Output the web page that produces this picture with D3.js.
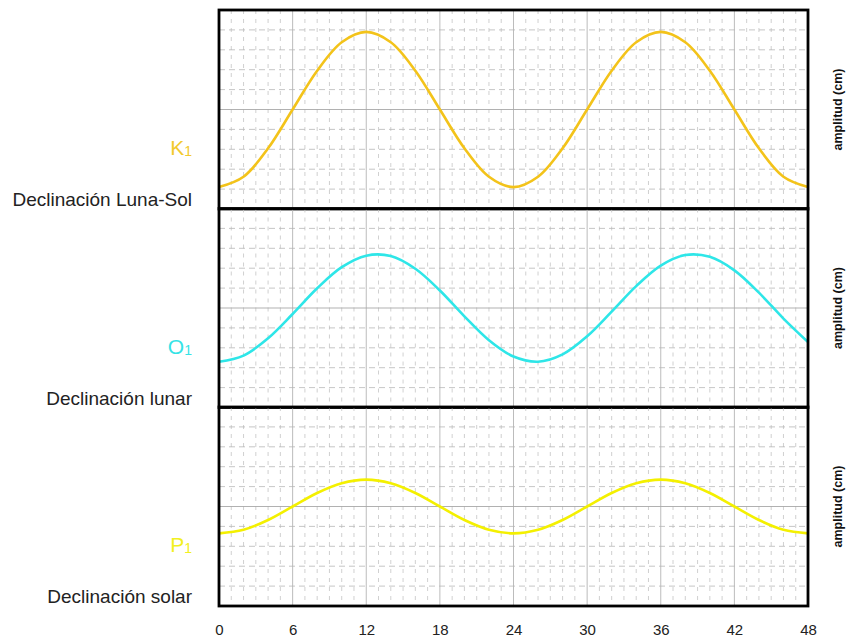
<!DOCTYPE html>
<html>
<head>
<meta charset="utf-8">
<script src="https://cdn.jsdelivr.net/npm/d3@7"></script>
<style>
  html, body { margin: 0; padding: 0; background: #fff; }
  svg { display: block; }
</style>
</head>
<body>
<svg id="chart" width="846" height="639"></svg>
<script>
// ---- data ----
const hours = [0,2,4,6,8,10,12,14,16,18,20,22,24,26,28,30,32,34,36,38,40,42,44,46,48];
const k1 = [-3.9,-3.38,-1.95,0,1.95,3.38,3.9,3.38,1.95,0,-1.95,-3.38,-3.9,-3.38,-1.95,0,1.95,3.38,3.9,3.38,1.95,0,-1.95,-3.38,-3.9];
const o1 = [-2.7,-2.39,-1.52,-0.30,0.99,2.05,2.63,2.61,1.97,0.88,-0.42,-1.62,-2.44,-2.70,-2.33,-1.42,-0.18,1.10,2.13,2.66,2.57,1.89,0.77,-0.53,-1.71];
const p1 = [-1.35,-1.17,-0.68,0,0.68,1.17,1.35,1.17,0.68,0,-0.68,-1.17,-1.35,-1.17,-0.68,0,0.68,1.17,1.35,1.17,0.68,0,-0.68,-1.17,-1.35];
const xTicks = [0,6,12,18,24,30,36,42,48];
const constituents = ["K", "O", "P"];
const subscripts = ["1", "1", "1"];
const descriptions = ["Declinación Luna-Sol", "Declinación lunar", "Declinación solar"];
const yLabel = "amplitud (cm)";
const series = [k1, o1, p1];
const colors = ["#f3c31a", "#2ee6e8", "#f4f000"];
const labelColors = ["#f2c92e", "#35e3e6", "#f2f021"];

// ---- layout ----
const svg = d3.select("#chart");
const left = 219, right = 808;
const panelTops = [10, 208.5, 407];
const panelH = 199;

const x = d3.scaleLinear().domain([0, 48]).range([left, right]);
const minorX = d3.range(0, 49, 1);
const majorX = d3.range(0, 49, 6);
const yDivs = d3.range(-5, 5.01, 1);

series.forEach((vals, i) => {
  const top = panelTops[i];
  const y = d3.scaleLinear().domain([-5, 5]).range([top + panelH, top]);
  const g = svg.append("g");

  g.selectAll(".vminor").data(minorX.filter(d => d % 6 !== 0)).join("line")
    .attr("x1", d => x(d)).attr("x2", d => x(d))
    .attr("y1", top).attr("y2", top + panelH)
    .attr("stroke", "#c4c4c4").attr("stroke-width", 0.8)
    .attr("stroke-dasharray", "4,5");

  g.selectAll(".hminor").data(yDivs.filter(d => d !== 0 && Math.abs(d) !== 5)).join("line")
    .attr("x1", left).attr("x2", right)
    .attr("y1", d => y(d)).attr("y2", d => y(d))
    .attr("stroke", "#b8b8b8").attr("stroke-width", 0.8)
    .attr("stroke-dasharray", "6,4");

  g.selectAll(".vmajor").data(majorX.filter(d => d !== 0 && d !== 48)).join("line")
    .attr("x1", d => x(d)).attr("x2", d => x(d))
    .attr("y1", top).attr("y2", top + panelH)
    .attr("stroke", "#b4b4b4").attr("stroke-width", 0.9);

  g.append("line")
    .attr("x1", left).attr("x2", right)
    .attr("y1", y(0)).attr("y2", y(0))
    .attr("stroke", "#a8a8a8").attr("stroke-width", 0.9);

  const line = d3.line()
    .x((d, j) => x(hours[j]))
    .y(d => y(d))
    .curve(d3.curveCatmullRom.alpha(0.5));
  g.append("path")
    .datum(vals)
    .attr("d", line)
    .attr("fill", "none")
    .attr("stroke", colors[i])
    .attr("stroke-width", 2.6);

  g.append("rect")
    .attr("x", left).attr("y", top)
    .attr("width", right - left).attr("height", panelH)
    .attr("fill", "none").attr("stroke", "#000").attr("stroke-width", 2.8);

  const lbl = svg.append("text")
    .attr("x", 192).attr("y", top + 145)
    .attr("text-anchor", "end")
    .attr("font-family", "Liberation Sans, Arial, sans-serif")
    .attr("font-size", 21)
    .attr("fill", labelColors[i]);
  lbl.append("tspan").text(constituents[i]);
  lbl.append("tspan").attr("font-size", 14).attr("dy", 1).text(subscripts[i]);

  svg.append("text")
    .attr("x", 192).attr("y", top + 196)
    .attr("text-anchor", "end")
    .attr("font-family", "Liberation Sans, Arial, sans-serif")
    .attr("font-size", 19)
    .attr("fill", "#222")
    .text(descriptions[i]);

  svg.append("text")
    .attr("transform", `translate(842, ${top + panelH / 2}) rotate(-90)`)
    .attr("text-anchor", "middle")
    .attr("font-family", "Liberation Sans, Arial, sans-serif")
    .attr("font-size", 12.5)
    .attr("font-weight", "bold")
    .attr("fill", "#111")
    .text(yLabel);
});

const axis = d3.axisBottom(x).tickValues(xTicks).tickSize(0).tickPadding(0).tickFormat(d3.format("d"));
const ax = svg.append("g").attr("transform", `translate(0, ${624})`).call(axis);
ax.select(".domain").remove();
ax.selectAll("text")
  .attr("font-family", "Liberation Sans Narrow, Arial Narrow, Liberation Sans, sans-serif")
  .attr("font-size", 15)
  .attr("fill", "#222");
</script>
</body>
</html>
